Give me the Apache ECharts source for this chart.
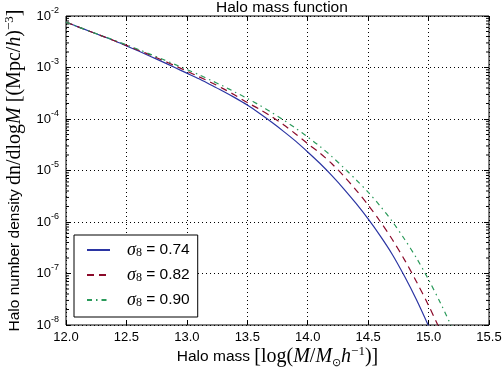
<!DOCTYPE html>
<html><head><meta charset="utf-8">
<script src="https://cdn.jsdelivr.net/npm/echarts@6/dist/echarts.min.js"></script>
<style>html,body{margin:0;padding:0;background:#fff}#c{width:504px;height:367px}</style>
</head><body><div id="c"></div><script>
// Halo mass (log10 M) grid
const massGrid = [12.0,12.1,12.2,12.3,12.4,12.5,12.6,12.7,12.8,12.9,13.0,13.1,13.2,13.3,13.4,13.5,13.6,13.7,13.8,13.9,14.0,14.1,14.2,14.3,14.4,14.5,14.6,14.7,14.8,14.9,15.0,15.1,15.2];
// log10 of halo number density for each sigma_8
const logDensity074 = [-2.12,-2.21,-2.30,-2.39,-2.48,-2.58,-2.68,-2.785,-2.89,-3.00,-3.11,-3.22,-3.34,-3.46,-3.59,-3.73,-3.89,-4.06,-4.24,-4.43,-4.64,-4.86,-5.10,-5.36,-5.64,-5.94,-6.27,-6.63,-7.05,-7.51,-8.02];
const logDensity082 = [-2.12,-2.21,-2.30,-2.39,-2.48,-2.57,-2.665,-2.76,-2.86,-2.965,-3.07,-3.18,-3.29,-3.41,-3.54,-3.68,-3.81,-3.95,-4.11,-4.29,-4.48,-4.66,-4.87,-5.11,-5.38,-5.67,-5.99,-6.34,-6.73,-7.16,-7.62,-8.12];
const logDensity090 = [-2.12,-2.21,-2.30,-2.385,-2.47,-2.56,-2.65,-2.745,-2.84,-2.94,-3.04,-3.14,-3.25,-3.36,-3.48,-3.60,-3.73,-3.87,-4.02,-4.18,-4.35,-4.53,-4.73,-4.95,-5.18,-5.42,-5.69,-5.99,-6.33,-6.70,-7.12,-7.58,-8.08];
const sigma8Labels = ['0.74','0.82','0.90'];
const minorMultipliers = [2,3,4,5,6,7,8,9];
const minorDecades = [-8,-7,-6,-5,-4,-3];

const SANS = 'Liberation Sans';
const SERIF = 'Liberation Serif';

function pairs(logs){ return logs.map((l,i)=>[massGrid[i], Math.pow(10,l)]); }
const seriesNames = sigma8Labels.map(s=>'σ8 = '+s);

const minorData = [];
minorDecades.forEach(e=>minorMultipliers.forEach(m=>minorData.push([12, m*Math.pow(10,e)])));

const mathRich = {
  t:{fontFamily:SANS, fontSize:15.5, lineHeight:24, verticalAlign:'middle'},
  m:{fontFamily:SERIF, fontSize:20, lineHeight:24, verticalAlign:'middle'},
  mi:{fontFamily:SERIF, fontStyle:'italic', fontSize:20, lineHeight:24, verticalAlign:'middle'},
  sup:{fontFamily:SERIF, fontSize:13, verticalAlign:'top'},
  sub:{fontFamily:SERIF, fontSize:11, verticalAlign:'bottom'}
};

const chart = echarts.init(document.getElementById('c'), null, {renderer:'canvas'});
chart.setOption({
  animation:false,
  backgroundColor:'#fff',
  title:{text:'Halo mass function', left:211, top:-5, textStyle:{fontFamily:SANS, fontSize:15.5, fontWeight:'normal', color:'#000'}},
  grid:{left:66, right:15, top:16, bottom:42, show:true, borderColor:'#000', borderWidth:1, backgroundColor:'transparent', containLabel:false, outerBoundsMode:'none'},
  legend:{
    orient:'vertical', left:74, top:235, itemWidth:23, itemHeight:14, itemGap:7, z:10,
    padding:[6,8,8,12], borderColor:'#000', borderWidth:1, backgroundColor:'#fff', borderRadius:0,
    itemStyle:{opacity:0},
    data:seriesNames,
    formatter:function(name){ const i=seriesNames.indexOf(name); return '{i|σ}{sub|8}{t| = '+sigma8Labels[i]+'}'; },
    textStyle:{color:'#000', rich:{
      i:{fontFamily:SERIF, fontStyle:'italic', fontSize:18, padding:[0,0,0,12], lineHeight:18, verticalAlign:'middle'},
      sub:{fontFamily:SERIF, fontSize:12, verticalAlign:'bottom'},
      t:{fontFamily:SANS, fontSize:15.5, lineHeight:18, verticalAlign:'middle'}
    }}
  },
  xAxis:[{
    type:'value', min:12, max:15.5, interval:0.5, position:'bottom',
    name:'{t|Halo mass }{m|[log(}{mi|M}{m|/}{mi|M}{sub|⊙}{mi|h}{sup|−1}{m|)]}',
    nameLocation:'middle', nameGap:20, nameMoveOverlap:false,
    nameTextStyle:{color:'#000', rich:mathRich},
    axisLine:{show:false},
    axisTick:{show:true, inside:true, length:5, lineStyle:{color:'#000', width:1}},
    axisLabel:{color:'#000', fontFamily:SANS, fontSize:13, margin:6, formatter:v=>v.toFixed(1)},
    splitLine:{show:true, lineStyle:{color:'#000', type:[1,3], width:1}}
  },{
    type:'value', min:12, max:15.5, interval:0.5, position:'top',
    axisLine:{show:false}, axisLabel:{show:false}, splitLine:{show:false},
    axisTick:{show:true, inside:true, length:5, lineStyle:{color:'#000', width:1}}
  }],
  yAxis:[{
    type:'log', logBase:10, min:1e-8, max:1e-2, interval:1, splitNumber:6, position:'left',
    name:'{t|Halo number density }{m|dn/dlog}{mi|M}{m| [(Mpc/}{mi|h}{m|)}{sup|−3}{m|]}',
    nameLocation:'middle', nameGap:39, nameRotate:90,
    nameTextStyle:{color:'#000', rich:mathRich},
    axisLine:{show:false},
    axisTick:{show:true, inside:true, length:5, lineStyle:{color:'#000', width:1}},
    axisLabel:{color:'#000', margin:7,
      formatter:v=>'{b|10}{s|'+Math.round(Math.log10(v))+'}',
      rich:{b:{fontFamily:SANS, fontSize:13, lineHeight:20, verticalAlign:'middle'}, s:{fontFamily:SANS, fontSize:9, verticalAlign:'top'}}},
    splitLine:{show:true, lineStyle:{color:'#000', type:[1,3], width:1}}
  },{
    type:'log', logBase:10, min:1e-8, max:1e-2, interval:1, splitNumber:6, position:'right',
    axisLine:{show:false}, axisLabel:{show:false}, splitLine:{show:false},
    axisTick:{show:true, inside:true, length:5, lineStyle:{color:'#000', width:1}}
  }],
  series:[
    {name:seriesNames[0], type:'line', data:pairs(logDensity074), showSymbol:false, symbol:'none', smooth:0.3, clip:true,
      lineStyle:{color:'#2b35a3', width:1.2, type:'solid'}, itemStyle:{color:'#2b35a3'}},
    {name:seriesNames[1], type:'line', data:pairs(logDensity082), showSymbol:false, symbol:'none', smooth:0.3, clip:true,
      lineStyle:{color:'#8b0a2a', width:1.2, type:[7,5]}, itemStyle:{color:'#8b0a2a'}},
    {name:seriesNames[2], type:'line', data:pairs(logDensity090), showSymbol:false, symbol:'none', smooth:0.3, clip:true,
      lineStyle:{color:'#2a9a5a', width:1.2, type:[5,4,1.5,4]}, itemStyle:{color:'#2a9a5a'}},
    {type:'custom', coordinateSystem:'cartesian2d', xAxisIndex:0, yAxisIndex:0, silent:true, z:2, clip:false,
      data:minorData,
      renderItem:function(params, api){
        const v = api.value(1);
        const pL = api.coord([12, v]);
        const pR = api.coord([15.5, v]);
        const st = {stroke:'#000', lineWidth:1};
        return {type:'group', children:[
          {type:'line', shape:{x1:pL[0], y1:pL[1], x2:pL[0]+3, y2:pL[1]}, style:st},
          {type:'line', shape:{x1:pR[0], y1:pR[1], x2:pR[0]-3, y2:pR[1]}, style:st}
        ]};
      }}
  ]
});
</script></body></html>
